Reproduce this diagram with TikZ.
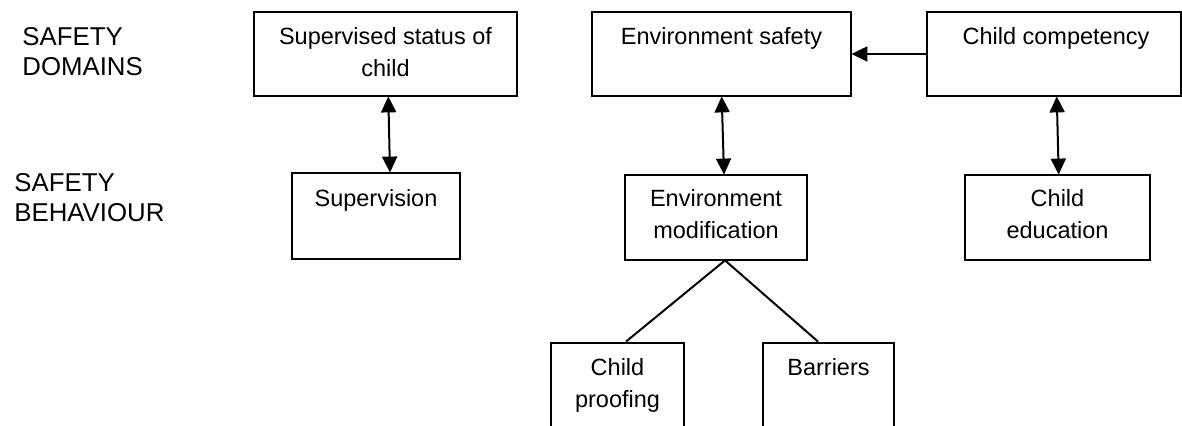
\documentclass[tikz,border=0pt]{standalone}
\usepackage{fontspec}
\setmainfont{Liberation Sans}
\usetikzlibrary{arrows.meta,calc}
\begin{document}
\begin{tikzpicture}[x=0.5pt,y=-0.5pt,
  lbl/.style={anchor=base west,font=\fontsize{12.9pt}{15pt}\selectfont,inner sep=0pt},
  txt/.style={anchor=base,font=\fontsize{11.75pt}{15.75pt}\selectfont,inner sep=0pt,align=center},
  frame/.style={line width=1pt},
  anch/.style={inner sep=0pt},
  tip/.style={line width=1pt,-{Triangle[length=8pt,width=7.5pt]}},
  dbl/.style={line width=1pt,{Triangle[length=8pt,width=7.5pt]}-{Triangle[length=8pt,width=7.5pt]}}]
\useasboundingbox (0,0) rectangle (1182,426);
% left labels
\node[lbl] (l1) at (22,46) {SAFETY};
\node[lbl] (l2) at (22,76) {DOMAINS};
\node[lbl] (l3) at (14,192) {SAFETY};
\node[lbl] (l4) at (14,222) {BEHAVIOUR};
% boxes
\draw[frame] (254,12) rectangle (517,96);
\node[anch,minimum width=263*0.5pt,minimum height=84*0.5pt] (ss) at (385.5,54) {};
\draw[frame] (592,12) rectangle (851,96);
\node[anch,minimum width=259*0.5pt,minimum height=84*0.5pt] (es) at (721.5,54) {};
\draw[frame] (927,12) rectangle (1180.5,96);
\node[anch,minimum width=253.5*0.5pt,minimum height=84*0.5pt] (cc) at (1053.75,54) {};
\draw[frame] (292,173) rectangle (460,259);
\node[anch,minimum width=168*0.5pt,minimum height=86*0.5pt] (sv) at (376,216) {};
\draw[frame] (625,175) rectangle (807,260);
\node[anch,minimum width=182*0.5pt,minimum height=85*0.5pt] (em) at (716,217.5) {};
\draw[frame] (965,175) rectangle (1150,260);
\node[anch,minimum width=185*0.5pt,minimum height=85*0.5pt] (ce) at (1057.5,217.5) {};
\draw[frame] (551,440) -- (551,343) -- (684,343) -- (684,440);
\node[anch,minimum width=133*0.5pt,minimum height=1pt] (cp) at (617.5,343) {};
\draw[frame] (763,440) -- (763,343) -- (894,343) -- (894,440);
\node[anch,minimum width=131*0.5pt,minimum height=1pt] (ba) at (828.5,343) {};
% texts (base = last line's baseline)
\node[txt] (t1) at (385.5,76.5) {Supervised status of\\child};
\node[txt] (t2) at (721.5,45) {Environment safety};
\node[txt] (t3) at (1056,45) {Child competency};
\node[txt] (t4) at (376,207) {Supervision};
\node[txt] (t5) at (716,238.5) {Environment\\modification};
\node[txt] (t6) at (1057.5,238.5) {Child\\education};
\node[txt] (t7) at (617.5,407.5) {Child\\proofing};
\node[txt] (t8) at (828.5,376) {Barriers};
% connectors
\draw[tip] (cc.west) -- (es.east);
\draw[dbl] ($(ss.south)+(2.8,0)$) -- ($(sv.north)+(14,0)$);
\draw[dbl] ($(es.south)+(0.2,0)$) -- ($(em.north)+(8,0)$);
\draw[dbl] ($(cc.south)+(3,0)$) -- ($(ce.north)+(1.2,0)$);
\draw[frame] ($(em.south)+(9,0)$) -- ($(cp.north)+(8.5,0)$);
\draw[frame] ($(em.south)+(9,0)$) -- ($(ba.north)+(-10.5,0)$);
\end{tikzpicture}
\end{document}
